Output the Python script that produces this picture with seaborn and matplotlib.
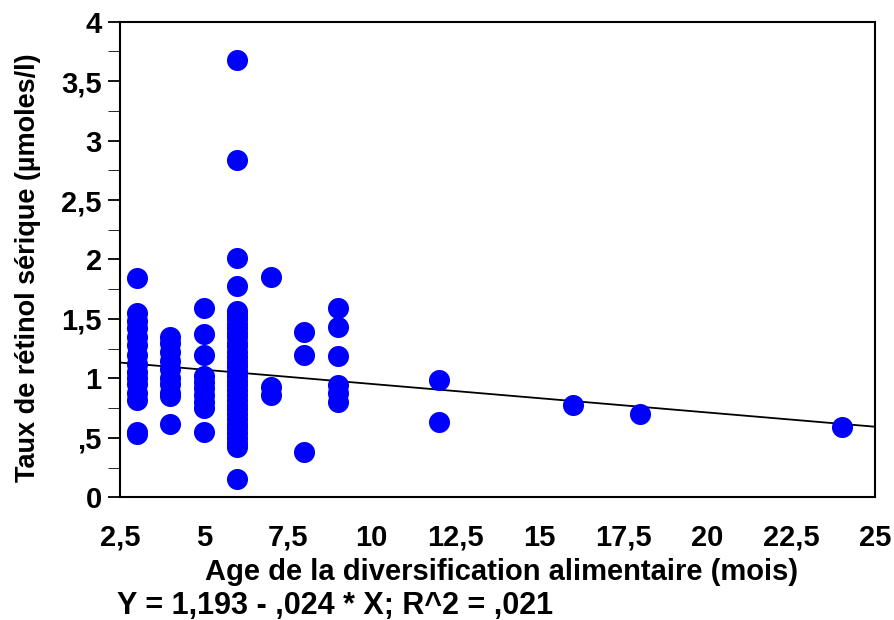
import matplotlib
matplotlib.use("Agg")
import matplotlib.pyplot as plt
import seaborn as sns
import pandas as pd
import numpy as np

# Serum retinol (µmol/l) grouped by age at dietary diversification (months)
retinol_by_age = {
    3: [1.84, 1.55, 1.48, 1.42, 1.35, 1.28, 1.20, 1.12, 1.05, 1.00, 0.95, 0.88, 0.82, 0.55, 0.53],
    4: [1.35, 1.30, 1.22, 1.15, 1.08, 1.00, 0.95, 0.88, 0.85, 0.62],
    5: [1.59, 1.37, 1.20, 1.02, 0.97, 0.92, 0.86, 0.80, 0.75, 0.55],
    6: [3.68, 2.84, 2.01, 1.78, 1.57, 1.53, 1.50, 1.46, 1.42, 1.38, 1.35, 1.30, 1.27,
        1.22, 1.18, 1.14, 1.10, 1.06, 1.02, 0.98, 0.94, 0.90, 0.86, 0.82, 0.78, 0.74,
        0.70, 0.66, 0.62, 0.58, 0.54, 0.50, 0.46, 0.42, 0.15],
    7: [1.85, 0.93, 0.86],
    8: [1.39, 1.20, 0.38],
    9: [1.59, 1.43, 1.19, 0.94, 0.88, 0.80],
    12: [0.99, 0.63],
    16: [0.78],
    18: [0.70],
    24: [0.59],
}

# Fitted regression: Y = intercept + slope * X
intercept = 1.193
slope = -0.024
r_squared = 0.021

x_ticks = [2.5, 5, 7.5, 10, 12.5, 15, 17.5, 20, 22.5, 25]
x_tick_labels = ["2,5", "5", "7,5", "10", "12,5", "15", "17,5", "20", "22,5", "25"]
y_ticks = [0, 0.5, 1, 1.5, 2, 2.5, 3, 3.5, 4]
y_tick_labels = ["0", ",5", "1", "1,5", "2", "2,5", "3", "3,5", "4"]

ages, values = [], []
for age, vals in retinol_by_age.items():
    ages.extend([age] * len(vals))
    values.extend(vals)
df = pd.DataFrame({"age": ages, "retinol": values})

sns.set_style("white")
plt.rcParams["font.family"] = ["Liberation Sans", "DejaVu Sans"]
plt.rcParams["font.weight"] = "bold"
plt.rcParams["text.color"] = "black"
plt.rcParams["xtick.color"] = "black"
plt.rcParams["ytick.color"] = "black"

fig = plt.figure(figsize=(8.94, 6.2), dpi=100)
ax = fig.add_axes([0.134, 0.198, 0.845, 0.767])

sns.scatterplot(data=df, x="age", y="retinol", ax=ax, color="#0000ff",
                s=230, edgecolor="#0000ff", linewidth=0, zorder=3)

xl = np.array([2.5, 25])
ax.plot(xl, intercept + slope * xl, color="black", lw=1.3, zorder=2)

ax.set_xlim(2.5, 25)
ax.set_ylim(0, 4)
ax.set_xticks(x_ticks)
ax.set_xticklabels(x_tick_labels)
ax.set_yticks(y_ticks)
ax.set_yticklabels(y_tick_labels)
ax.set_yticks(np.arange(0.25, 4, 0.5), minor=True)
ax.tick_params(axis="both", which="major", direction="out", width=1.3,
               labelsize=21, color="black", labelcolor="black")
ax.tick_params(axis="y", which="both", length=9, left=True, pad=4)
ax.tick_params(axis="x", which="major", length=7, pad=12)
for lab in ax.get_xticklabels() + ax.get_yticklabels():
    lab.set_fontweight("bold")

for sp in ax.spines.values():
    sp.set_visible(True)
    sp.set_color("black")
    sp.set_linewidth(1.5)

ax.set_xlabel("")
ax.set_ylabel("")
fig.text(0.561, 1 - 580 / 620, "Age de la diversification alimentaire (mois)",
         fontsize=21, fontweight="bold", ha="center", va="baseline", color="black")
fig.text(28 / 894, 1 - 268 / 620, "Taux de rétinol sérique (µmoles/l)",
         fontsize=19.5, fontweight="bold", ha="center", va="center", rotation=90,
         color="black")

eq = f"Y = {intercept:.3f} - {abs(slope):.3f} * X; R^2 = {r_squared:.3f}"
eq = eq.replace("0.", ",").replace(".", ",")
fig.text(117 / 894, 1 - 614 / 620, eq, fontsize=22, fontweight="bold",
         ha="left", va="baseline", color="black")

fig.savefig("out.png", dpi=100)
